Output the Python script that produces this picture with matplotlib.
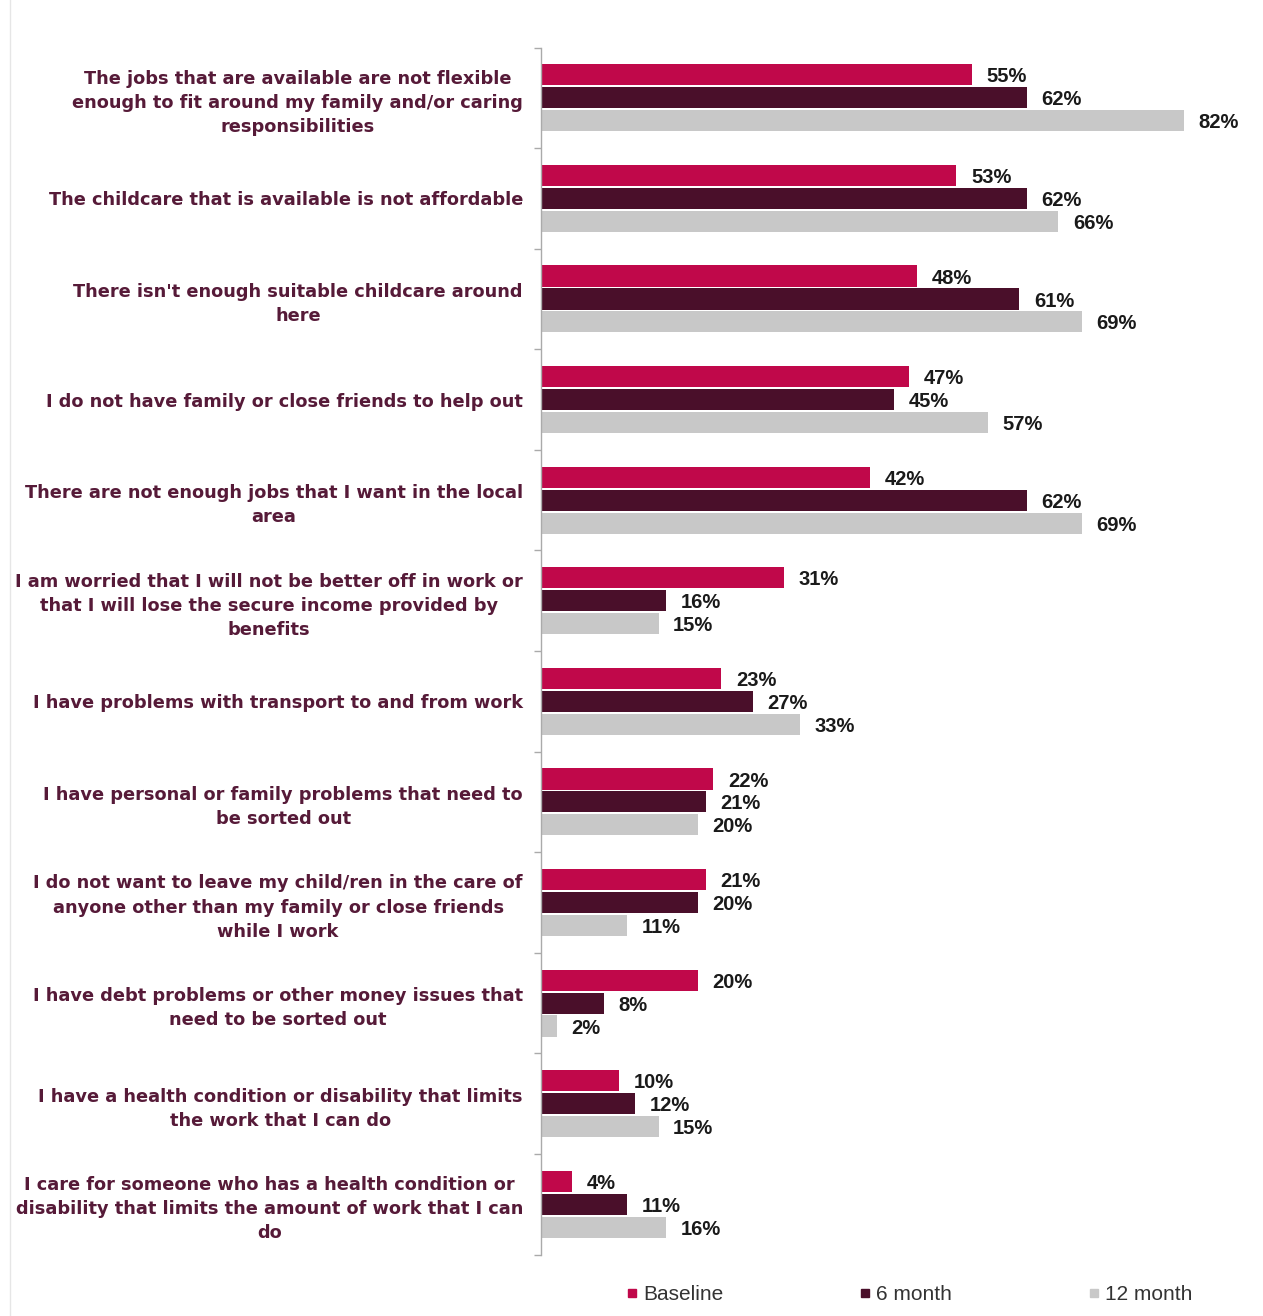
import matplotlib
matplotlib.use("Agg")
import matplotlib.pyplot as plt
from matplotlib.lines import Line2D
import numpy as np

categories = [
    "The jobs that are available are not flexible\nenough to fit around my family and/or caring\nresponsibilities",
    "The childcare that is available is not affordable",
    "There isn't enough suitable childcare around\nhere",
    "I do not have family or close friends to help out",
    "There are not enough jobs that I want in the local\narea",
    "I am worried that I will not be better off in work or\nthat I will lose the secure income provided by\nbenefits",
    "I have problems with transport to and from work",
    "I have personal or family problems that need to\nbe sorted out",
    "I do not want to leave my child/ren in the care of\nanyone other than my family or close friends\nwhile I work",
    "I have debt problems or other money issues that\nneed to be sorted out",
    "I have a health condition or disability that limits\nthe work that I can do",
    "I care for someone who has a health condition or\ndisability that limits the amount of work that I can\ndo",
]
series_names = ["Baseline", "6 month", "12 month"]
baseline = [55, 53, 48, 47, 42, 31, 23, 22, 21, 20, 10, 4]
month6 = [62, 62, 61, 45, 62, 16, 27, 21, 20, 8, 12, 11]
month12 = [82, 66, 69, 57, 69, 15, 33, 20, 11, 2, 15, 16]

colors = ["#c0084a", "#4a0f2a", "#c8c8c8"]
label_color = "#561a38"

plt.rcParams["font.family"] = ["Liberation Sans", "DejaVu Sans"]

fig = plt.figure(figsize=(12.63, 13.16), dpi=100)
ax = fig.add_axes([0.4283, 0.0467, 0.5587, 0.9172])

n = len(categories)
centers = np.arange(n)
step = 0.228
height = 0.21
for i, (vals, col) in enumerate(zip([baseline, month6, month12], colors)):
    ys = centers + (i - 1) * step
    ax.barh(ys, vals, height=height, color=col, edgecolor="none")
    for y, v in zip(ys, vals):
        ax.annotate(f"{v}%", xy=(v, y), xytext=(10.5, -1.5), textcoords="offset points",
                    ha="left", va="center", fontsize=14.5, fontweight="bold",
                    color="#1a1a1a")

ax.set_xlim(0, 90)
ax.set_ylim(n - 0.5, -0.5)
ax.set_yticks(centers)
ax.set_yticklabels(categories, fontsize=12.75, fontweight="bold", color=label_color,
                   family=["DejaVu Sans"], multialignment="center", linespacing=1.43)
ax.tick_params(axis="y", which="major", length=0, pad=13)
ax.set_yticks(np.arange(n + 1) - 0.5, minor=True)
ax.tick_params(axis="y", which="minor", length=5, width=1, color="#aaaaaa", direction="out")
ax.set_xticks([])
for s in ["top", "right", "bottom"]:
    ax.spines[s].set_visible(False)
ax.spines["left"].set_color("#aaaaaa")
ax.spines["left"].set_linewidth(1)

# legend
handles = [Line2D([0], [0], marker="s", linestyle="none", markersize=6,
                  markerfacecolor=c, markeredgecolor=c) for c in colors]
fig.legend(handles, series_names, loc="center", bbox_to_anchor=(0.7198, 0.016),
           ncol=3, frameon=False, fontsize=15, handlelength=0.6, handletextpad=0.25,
           columnspacing=6.5, labelcolor="#333333")

# faint outer frame line on the left
fig.add_artist(Line2D([10 / 1263, 10 / 1263], [0, 1], transform=fig.transFigure,
                      color="#e6e6e6", linewidth=1))

fig.savefig("out.png", dpi=100)
